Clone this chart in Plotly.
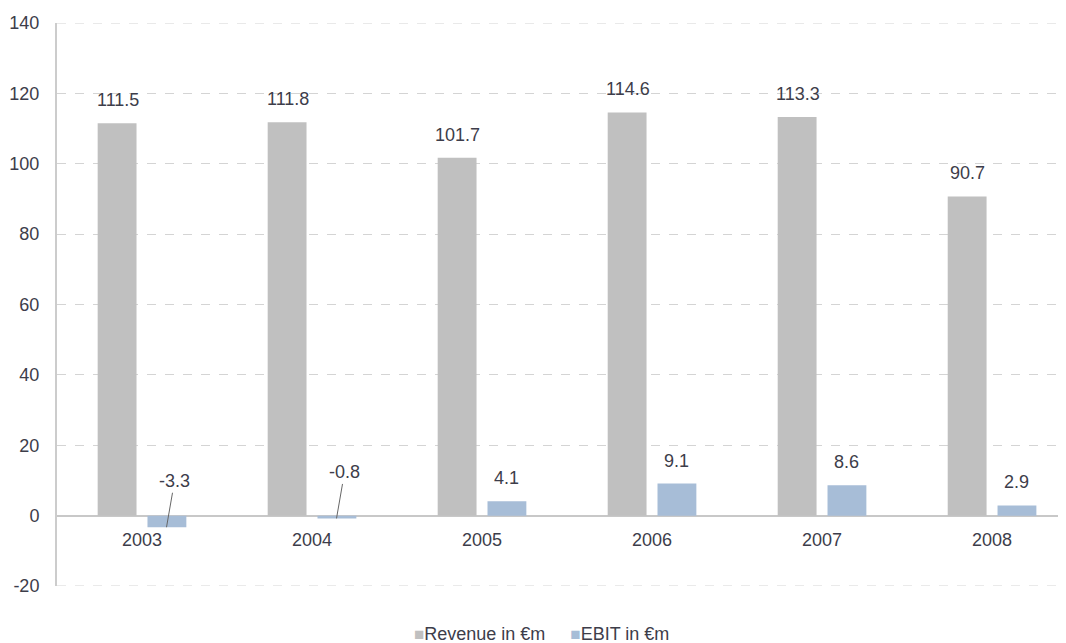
import plotly.graph_objects as go

years = ["2003", "2004", "2005", "2006", "2007", "2008"]
revenue = [111.5, 111.8, 101.7, 114.6, 113.3, 90.7]
ebit = [-3.3, -0.8, 4.1, 9.1, 8.6, 2.9]
rev_labels = ["111.5", "111.8", "101.7", "114.6", "113.3", "90.7"]
ebit_labels = ["-3.3", "-0.8", "4.1", "9.1", "8.6", "2.9"]
y_ticks = [-20, 0, 20, 40, 60, 80, 100, 120, 140]
y_ticktext = ["-20", "0", "20", "40", "60", "80", "100", "120", "140"]
series_names = ["Revenue in €m", "EBIT in €m"]
series_colors = ["#c0c0c0", "#a7bdd7"]

FONT = "Liberation Sans, Arial, sans-serif"
TXT = "#3d3d4a"
FS = 18

fig = go.Figure()
fig.add_trace(go.Bar(x=years, y=revenue, name=series_names[0],
                     marker=dict(color=series_colors[0], line=dict(width=0))))
fig.add_trace(go.Bar(x=years, y=ebit, name=series_names[1],
                     marker=dict(color=series_colors[1], line=dict(width=0))))

# on a category axis, annotation x is given as the category index
for i, (v, t) in enumerate(zip(revenue, rev_labels)):
    fig.add_annotation(x=i, y=v, text=t, showarrow=False, xshift=-24.5,
                       yshift=23, yanchor="middle",
                       font=dict(size=FS, color=TXT, family=FONT))
for i, (v, t) in enumerate(zip(ebit, ebit_labels)):
    if v >= 0:
        fig.add_annotation(x=i, y=v, text=t, showarrow=False, xshift=24.5,
                           yshift=23, yanchor="middle",
                           font=dict(size=FS, color=TXT, family=FONT))
    else:
        fig.add_annotation(x=i, y=v, text=t, showarrow=True, xshift=24.5,
                           ax=8, ay=-46, arrowhead=0, arrowwidth=1,
                           arrowcolor="#666666", standoff=0,
                           font=dict(size=FS, color=TXT, family=FONT))
# category labels at the zero line
for i, yr in enumerate(years):
    fig.add_annotation(x=i, y=0, text=yr, showarrow=False, yshift=-24,
                       yanchor="middle", font=dict(size=FS, color=TXT, family=FONT))

# legend
legend_text = "     ".join(
    f"<span style='color:{c};font-size:17px'>■</span>{n}"
    for n, c in zip(series_names, series_colors))
fig.add_annotation(xref="paper", yref="paper", x=0.48, y=-0.085, text=legend_text,
                   showarrow=False, xanchor="center", yanchor="middle",
                   font=dict(size=FS, color=TXT, family=FONT))

fig.update_layout(
    width=1058, height=635,
    margin=dict(l=49, r=0, t=15, b=57, autoexpand=False),
    paper_bgcolor="white", plot_bgcolor="white",
    barmode="group", bargap=0.414, bargroupgap=0.22,
    font=dict(family=FONT, size=FS, color=TXT),
    showlegend=False,
    xaxis=dict(type="category", range=[-0.5, 5.435], automargin=False,
               showline=False, showgrid=False, showticklabels=False, ticks=""),
    yaxis=dict(range=[-20, 140], tickvals=y_ticks, ticktext=y_ticktext,
               automargin=False, showline=True, linecolor="#cccccc",
               linewidth=2, showgrid=True, gridcolor="#d4d4d4", griddash="dash",
               gridwidth=1, zeroline=True, zerolinecolor="#c8c8c8", zerolinewidth=2,
               ticks="", ticklabelstandoff=12,
               tickfont=dict(size=FS, color=TXT)),
)

# grid lines at the range ends (hidden by plotly at the plot edge)
for yv in (y_ticks[0], y_ticks[-1]):
    fig.add_shape(type="line", xref="paper", yref="y", x0=0, x1=1, y0=yv, y1=yv,
                  line=dict(color="#d4d4d4", width=1, dash="dash"), layer="below")

fig.write_html("out.html")
